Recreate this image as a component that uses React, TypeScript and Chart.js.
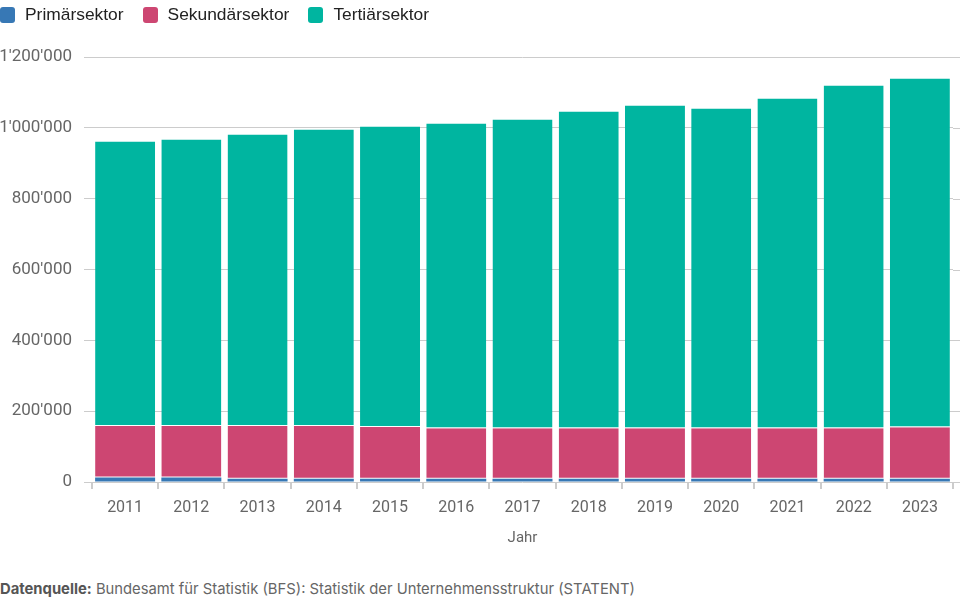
import React, { useEffect, useRef } from "react";
import { Chart, registerables } from "chart.js";

Chart.register(...registerables);

const years = ["2011", "2012", "2013", "2014", "2015", "2016", "2017", "2018", "2019", "2020", "2021", "2022", "2023"];
const primaer = [12500, 13000, 9500, 9500, 9500, 9500, 9500, 9500, 9500, 9500, 9500, 9500, 9500];
const sekundaer = [145800, 145300, 148800, 148800, 146000, 142300, 142300, 142300, 142300, 142300, 142300, 142300, 145100];
const tertiaer = [803000, 808700, 822700, 836900, 848200, 860200, 871700, 894200, 911200, 902700, 931000, 967800, 984800];
const seriesNames = ["Primärsektor", "Sekundärsektor", "Tertiärsektor"];
const seriesColors = ["#3778b5", "#cd4672", "#00b5a0"];

const fmt = (v: number) => String(v).replace(/\B(?=(\d{3})+(?!\d))/g, "'");

// y grid lines run to the right canvas edge
const gridExtend = {
  id: "gridExtend",
  afterDraw(chart: any) {
    const { ctx, chartArea, scales } = chart;
    ctx.save();
    ctx.strokeStyle = "#cccccc";
    ctx.lineWidth = 1;
    scales.y.ticks.forEach((t: any) => {
      const y = Math.round(scales.y.getPixelForValue(t.value)) + 0.5;
      ctx.beginPath();
      ctx.moveTo(chartArea.right, y);
      ctx.lineTo(chart.width, y);
      ctx.stroke();
    });
    ctx.restore();
  },
};

const App = () => {
  const chartRef = useRef<HTMLCanvasElement | null>(null);

  useEffect(() => {
    document.body.style.margin = "0";
    if (!chartRef.current) return;
    const data = [primaer, sekundaer, tertiaer];
    const myChart = new Chart(chartRef.current, {
      type: "bar",
      data: {
        labels: years,
        datasets: data.map((d, i) => ({
          label: seriesNames[i],
          data: d,
          backgroundColor: seriesColors[i],
          borderColor: "#ffffff",
          // white separator at the bottom of the upper segments
          borderWidth: { top: 0, bottom: i === 0 ? 0 : 1, left: 0, right: 0 },
          borderSkipped: false,
          categoryPercentage: 0.906,
          barPercentage: 1,
        })),
      },
      plugins: [gridExtend],
      options: {
        responsive: false,
        animation: false,
        layout: { padding: { top: 57, right: 7, left: 0, bottom: 0 } },
        plugins: {
          legend: { display: false },
          tooltip: { enabled: false },
        },
        scales: {
          x: {
            stacked: true,
            grid: { drawOnChartArea: false, drawTicks: true, tickLength: 7, color: "#cccccc", lineWidth: 2 },
            border: { display: false },
            ticks: { color: "#666666", font: { family: "Roboto", size: 16 }, padding: 9 },
            title: {
              display: true,
              text: "Jahr",
              color: "#666666",
              font: { family: "Roboto", size: 15 },
              padding: { top: 4, bottom: 0 },
            },
            afterFit: (s: any) => {
              s.height = 65;
            },
          },
          y: {
            stacked: true,
            min: 0,
            max: 1200000,
            ticks: {
              stepSize: 200000,
              color: "#666666",
              font: { family: "Roboto", size: 17 },
              padding: 12,
              callback: (v: any) => fmt(Number(v)),
            },
            grid: { color: "#cccccc", tickLength: 8, drawTicks: true },
            border: { display: false },
            afterFit: (s: any) => {
              s.width = 92;
            },
          },
        },
      },
    });
    return () => {
      myChart.destroy();
    };
  }, []);

  return (
    <div style={{ position: "relative", width: 960, height: 603, background: "#fff", overflow: "hidden" }}>
      <canvas ref={chartRef} width={960} height={547} style={{ position: "absolute", left: 0, top: 0, width: 960, height: 547 }} />
      <div
        style={{
          position: "absolute",
          left: 0,
          top: 4,
          display: "flex",
          gap: 19,
          fontFamily: "'Liberation Sans', Arial, sans-serif",
          fontSize: 17.4,
          color: "#222",
        }}
      >
        {seriesNames.map((n, i) => (
          <div key={n} style={{ display: "flex", alignItems: "center", gap: 10 }}>
            <span style={{ display: "inline-block", width: 15, height: 16, borderRadius: 3, background: seriesColors[i] }} />
            <span>{n}</span>
          </div>
        ))}
      </div>
      <div
        style={{
          position: "absolute",
          left: 0,
          top: 580,
          fontFamily: "Inter, sans-serif",
          fontSize: 14.8,
          color: "#666",
        }}
      >
        <b style={{ color: "#555" }}>Datenquelle:</b> Bundesamt für Statistik (BFS): Statistik der Unternehmensstruktur (STATENT)
      </div>
    </div>
  );
};

export default App;
